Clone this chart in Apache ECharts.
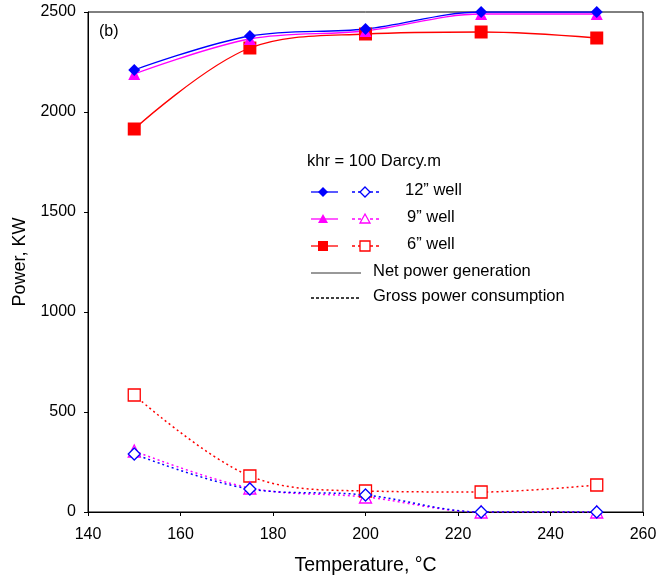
<!DOCTYPE html>
<html>
<head>
<meta charset="utf-8">
<script src="https://cdn.jsdelivr.net/npm/echarts@6/dist/echarts.min.js"></script>
<style>
  html, body { margin: 0; padding: 0; background: #fff; }
  #chart { width: 658px; height: 582px; }
</style>
</head>
<body>
<div id="chart"></div>
<script>
// Temperatures (°C)
const temperatures = [150, 175, 200, 225, 250];

// Net power generation (KW)
const net12 = [2210, 2380, 2415, 2500, 2500];
const net9  = [2190, 2365, 2405, 2490, 2490];
const net6  = [1915, 2320, 2390, 2400, 2370];

// Gross power consumption (KW)
const gross12 = [290, 115, 85, 0, 0];
const gross9  = [305, 120, 75, 0, 0];
const gross6  = [585, 180, 105, 100, 135];

const xTicks = [140, 160, 180, 200, 220, 240, 260];
const yTicks = [0, 500, 1000, 1500, 2000, 2500];

const FONT = 'Liberation Sans, Arial, sans-serif';
const BLUE = '#0000ff', MAGENTA = '#ff00ff', RED = '#ff0000';

const pairs = arr => temperatures.map((t, i) => [t, arr[i]]);

function netSeries(name, data, color, symbol, size) {
  return {
    name, type: 'line', smooth: 0.35, data: pairs(data),
    symbol, symbolSize: size,
    lineStyle: { color, width: 1.3 },
    itemStyle: { color, borderWidth: 0 },
    z: 3
  };
}
function grossSeries(name, data, color, symbol, size) {
  return {
    name, type: 'line', smooth: 0.35, data: pairs(data),
    symbol, symbolSize: size,
    lineStyle: { color, width: 1.5, type: [2, 3] },
    itemStyle: { color: '#fff', borderColor: color, borderWidth: 1.3 },
    z: 3
  };
}

// Legend block built from graphic primitives
const legendX = 311;
const LEG_FONT = '16.5px ' + FONT;
const rows = [
  { label: '12\u201d well', color: BLUE, sym: 'diamond', y: 192, tx: 405 },
  { label: '9\u201d well', color: MAGENTA, sym: 'triangle', y: 219, tx: 407 },
  { label: '6\u201d well', color: RED, sym: 'square', y: 246, tx: 407 }
];
function markerShape(sym, cx, cy, filled, color) {
  const s = 5;
  let pts;
  if (sym === 'diamond') pts = [[cx, cy - s], [cx + s, cy], [cx, cy + s], [cx - s, cy]];
  else if (sym === 'triangle') pts = [[cx, cy - s], [cx + s, cy + s - 1], [cx - s, cy + s - 1]];
  else pts = [[cx - s, cy - s], [cx + s, cy - s], [cx + s, cy + s], [cx - s, cy + s]];
  return {
    type: 'polygon', shape: { points: pts },
    style: filled ? { fill: color } : { fill: '#fff', stroke: color, lineWidth: 1.3 },
    z: 10
  };
}
const legendGraphics = [
  { type: 'text', left: 99, top: 24, style: { text: '(b)', font: '16px ' + FONT, fill: '#000' } },
  { type: 'text', left: 307, top: 153, style: { text: 'khr = 100 Darcy.m', font: LEG_FONT, fill: '#000' } }
];
rows.forEach(r => {
  legendGraphics.push({ type: 'line', shape: { x1: legendX, y1: r.y, x2: legendX + 27, y2: r.y },
    style: { stroke: r.color, lineWidth: 1.3 }, z: 9 });
  legendGraphics.push(markerShape(r.sym, legendX + 12, r.y, true, r.color));
  legendGraphics.push({ type: 'line', shape: { x1: legendX + 41, y1: r.y, x2: legendX + 68, y2: r.y },
    style: { stroke: r.color, lineWidth: 1.5, lineDash: [3, 3] }, z: 9 });
  legendGraphics.push(markerShape(r.sym, legendX + 54, r.y, false, r.color));
  legendGraphics.push({ type: 'text', left: r.tx, top: r.y - 10,
    style: { text: r.label, font: LEG_FONT, fill: '#000' } });
});
legendGraphics.push({ type: 'line', shape: { x1: legendX, y1: 273, x2: legendX + 50, y2: 273 },
  style: { stroke: '#333', lineWidth: 1 } });
legendGraphics.push({ type: 'text', left: 373, top: 263,
  style: { text: 'Net power generation', font: LEG_FONT, fill: '#000' } });
legendGraphics.push({ type: 'line', shape: { x1: legendX, y1: 298, x2: legendX + 50, y2: 298 },
  style: { stroke: '#000', lineWidth: 1.5, lineDash: [3, 2] } });
legendGraphics.push({ type: 'text', left: 373, top: 288,
  style: { text: 'Gross power consumption', font: LEG_FONT, fill: '#000' } });

const chart = echarts.init(document.getElementById('chart'), null, { renderer: 'canvas' });
chart.setOption({
  animation: false,
  backgroundColor: '#fff',
  grid: { left: 88, right: 15, top: 12, bottom: 70, show: true, borderColor: '#000', borderWidth: 1,
          outerBoundsMode: 'none' },
  xAxis: {
    type: 'value', min: xTicks[0], max: xTicks[xTicks.length - 1], interval: 20,
    name: 'Temperature, \u00b0C', nameLocation: 'middle', nameGap: 44,
    nameTextStyle: { fontFamily: FONT, fontSize: 19.5, color: '#000' },
    axisLine: { show: true, lineStyle: { color: '#000', width: 1 } },
    axisTick: { show: true, inside: false, length: 4, lineStyle: { color: '#000' } },
    axisLabel: { fontFamily: FONT, fontSize: 16, color: '#000', margin: 15 },
    splitLine: { show: false }
  },
  yAxis: {
    type: 'value', min: yTicks[0], max: yTicks[yTicks.length - 1], interval: 500,
    name: 'Power, KW', nameLocation: 'middle', nameGap: 59, nameRotate: 90,
    nameTextStyle: { fontFamily: FONT, fontSize: 18, color: '#000' },
    axisLine: { show: true, lineStyle: { color: '#000', width: 1 } },
    axisTick: { show: true, inside: false, length: 4, lineStyle: { color: '#000' } },
    axisLabel: { fontFamily: FONT, fontSize: 16, color: '#000', margin: 12,
                 formatter: v => String(v) },
    splitLine: { show: false }
  },
  series: [
    grossSeries('6\u201d gross', gross6, RED, 'rect', 12),
    grossSeries('9\u201d gross', gross9, MAGENTA, 'triangle', 12),
    grossSeries('12\u201d gross', gross12, BLUE, 'diamond', 12),
    netSeries('6\u201d net', net6, RED, 'rect', 13),
    netSeries('9\u201d net', net9, MAGENTA, 'triangle', 12),
    netSeries('12\u201d net', net12, BLUE, 'diamond', 12)
  ],
  graphic: legendGraphics
});
</script>
</body>
</html>
